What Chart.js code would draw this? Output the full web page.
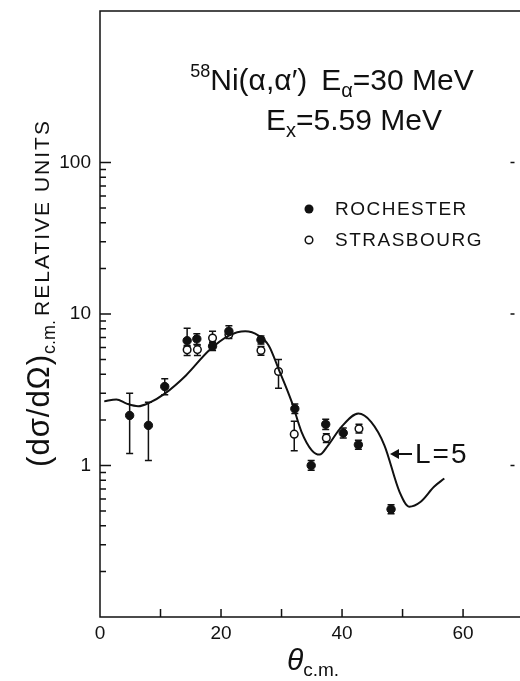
<!DOCTYPE html>
<html>
<head>
<meta charset="utf-8">
<script src="https://cdn.jsdelivr.net/npm/chart.js@4/dist/chart.umd.min.js"></script>
<style>
  html, body { margin: 0; padding: 0; background: #fff; }
</style>
</head>
<body>
<canvas id="graficoNi" width="520" height="681"></canvas>
<script>
// dados (theta c.m. em graus, secao de choque relativa)
const rochAngle = [4.9, 8.0, 10.7, 14.4, 16.0, 18.6, 21.3, 26.6, 32.2, 34.9, 37.3, 40.2, 42.7, 48.1];
const rochValue = [2.14, 1.84, 3.32, 6.67, 6.85, 6.13, 7.69, 6.75, 2.37, 1.00, 1.87, 1.64, 1.37, 0.514];
const rochLow   = [1.2, 1.08, 2.93, 6.1, 6.3, 5.75, 7.1, 6.35, 2.2, 0.93, 1.73, 1.52, 1.28, 0.48];
const rochHigh  = [3.0, 2.62, 3.74, 8.05, 7.4, 6.5, 8.37, 7.15, 2.55, 1.08, 2.02, 1.77, 1.47, 0.55];

const strasAngle = [14.4, 16.1, 18.6, 21.3, 26.6, 29.5, 32.1, 37.4, 42.8];
const strasValue = [5.8, 5.82, 6.95, 7.31, 5.74, 4.17, 1.61, 1.52, 1.75];
const strasLow   = [5.32, 5.32, 6.5, 6.9, 5.35, 3.24, 1.25, 1.42, 1.64];
const strasHigh  = [6.2, 6.25, 7.69, 7.7, 6.1, 5.0, 1.96, 1.62, 1.87];

// curva teorica L=5
const curveAngle = [0.7, 2.7, 4.4, 6.3, 8.2, 10.7, 14.2, 18.0, 21.3, 24.0, 26.2, 27.9, 29.5, 31.7, 33.3, 35.0, 36.3, 37.7, 39.9, 42.7, 44.8, 47.0, 49.5, 51.1, 53.0, 55.2, 56.9];
const curveValue = [2.65, 2.73, 2.56, 2.46, 2.6, 2.98, 3.93, 5.74, 7.2, 7.69, 7.2, 6.18, 4.35, 2.62, 1.67, 1.26, 1.18, 1.36, 1.8, 2.2, 1.94, 1.36, 0.67, 0.535, 0.577, 0.724, 0.82];

const xTickLabels = [0, 20, 40, 60];
const yTickLabels = [1, 10, 100];

const FONTE = '"Liberation Sans", "DejaVu Sans", sans-serif';

function pontos(xs, ys) {
    return xs.map((x, i) => ({ x: x, y: ys[i] }));
}

// desenha um texto composto de pedacos (normal, sobrescrito, subscrito)
function textoComposto(ctx, partes, x, y, align) {
    const fonte = p => (p.italic ? 'italic ' : '') + p.size + 'px ' + FONTE;
    let total = 0;
    partes.forEach(p => {
        ctx.font = fonte(p);
        ctx.letterSpacing = (p.ls || 0) + 'px';
        total += ctx.measureText(p.t).width + (p.gap || 0);
    });
    let cx = align === 'center' ? x - total / 2 : x;
    partes.forEach(p => {
        ctx.font = fonte(p);
        ctx.letterSpacing = (p.ls || 0) + 'px';
        ctx.fillText(p.t, cx, y + (p.dy || 0));
        cx += ctx.measureText(p.t).width + (p.gap || 0);
    });
    ctx.letterSpacing = '0px';
}

// barras de erro, desenhadas antes dos pontos
const barrasErro = {
    id: 'barrasErro',
    beforeDatasetsDraw(chart) {
        const ctx = chart.ctx;
        const xs = chart.scales.x, ys = chart.scales.y;
        ctx.save();
        ctx.strokeStyle = '#111';
        ctx.lineWidth = 1.5;
        chart.data.datasets.forEach(ds => {
            if (!ds.errLow) return;
            ds.data.forEach((p, i) => {
                const px = xs.getPixelForValue(p.x);
                const y1 = ys.getPixelForValue(ds.errLow[i]);
                const y2 = ys.getPixelForValue(ds.errHigh[i]);
                ctx.beginPath();
                ctx.moveTo(px, y1); ctx.lineTo(px, y2);
                ctx.moveTo(px - 3.5, y1); ctx.lineTo(px + 3.5, y1);
                ctx.moveTo(px - 3.5, y2); ctx.lineTo(px + 3.5, y2);
                ctx.stroke();
            });
        });
        ctx.restore();
    }
};

// eixos, marcas, textos e legenda
const moldura = {
    id: 'moldura',
    afterDraw(chart) {
        const ctx = chart.ctx;
        const xs = chart.scales.x, ys = chart.scales.y;
        const a = chart.chartArea;
        ctx.save();
        ctx.strokeStyle = '#111';
        ctx.fillStyle = '#111';
        ctx.lineWidth = 1.5;

        // linhas: topo, esquerda, base
        ctx.beginPath();
        ctx.moveTo(520, a.top); ctx.lineTo(a.left, a.top);
        ctx.lineTo(a.left, a.bottom); ctx.lineTo(520, a.bottom);
        ctx.stroke();

        // marcas do eixo x
        ctx.beginPath();
        for (let v = 10; v <= 60; v += 10) {
            const px = xs.getPixelForValue(v);
            ctx.moveTo(px, a.bottom); ctx.lineTo(px, a.bottom - 8);
        }
        // marcas do eixo y (log), so ate 100
        for (let d = 0.1; d < 100; d *= 10) {
            for (let m = 1; m <= 10; m++) {
                const v = d * m;
                if (v <= 0.1 + 1e-9) continue;
                const py = ys.getPixelForValue(v);
                const len = (m === 1 || m === 10) ? 11 : 6;
                ctx.moveTo(a.left, py); ctx.lineTo(a.left + len, py);
            }
        }
        yTickLabels.forEach(v => {
            const py = ys.getPixelForValue(v);
            ctx.moveTo(a.right, py); ctx.lineTo(a.right - 4, py);
        });
        ctx.stroke();

        // rotulos das marcas
        ctx.font = '19px ' + FONTE;
        ctx.textAlign = 'center';
        ctx.textBaseline = 'top';
        xTickLabels.forEach(v => ctx.fillText(String(v), xs.getPixelForValue(v), a.bottom + 7));
        ctx.textAlign = 'right';
        ctx.textBaseline = 'middle';
        yTickLabels.forEach(v => ctx.fillText(String(v), a.left - 9, ys.getPixelForValue(v)));

        // titulo dentro do grafico
        ctx.textAlign = 'left';
        ctx.textBaseline = 'alphabetic';
        textoComposto(ctx, [
            { t: '58', size: 18, dy: -13 },
            { t: 'Ni(\u03b1,\u03b1\u2032)', size: 30, gap: 14 },
            { t: 'E', size: 30 },
            { t: '\u03b1', size: 20, dy: 7 },
            { t: '=30 MeV', size: 30 }
        ], 332, 90, 'center');
        textoComposto(ctx, [
            { t: 'E', size: 30 },
            { t: 'x', size: 20, dy: 7 },
            { t: '=5.59 MeV', size: 30 }
        ], 354, 130, 'center');

        // legenda
        ctx.beginPath();
        ctx.arc(309, 209, 4.5, 0, Math.PI * 2);
        ctx.fill();
        ctx.beginPath();
        ctx.lineWidth = 1.5;
        ctx.arc(309, 240, 3.8, 0, Math.PI * 2);
        ctx.stroke();
        ctx.font = '19px ' + FONTE;
        ctx.textBaseline = 'middle';
        ctx.letterSpacing = '1.5px';
        ctx.fillText('ROCHESTER', 335, 210);
        ctx.fillText('STRASBOURG', 335, 241);
        ctx.letterSpacing = '0px';

        // anotacao L=5
        ctx.beginPath();
        ctx.lineWidth = 2;
        ctx.moveTo(412, 454); ctx.lineTo(397, 454);
        ctx.stroke();
        ctx.beginPath();
        ctx.moveTo(390, 454); ctx.lineTo(399, 449); ctx.lineTo(399, 459);
        ctx.closePath();
        ctx.fill();
        ctx.font = '28px ' + FONTE;
        ctx.letterSpacing = '2px';
        ctx.fillText('L=5', 415, 455);
        ctx.letterSpacing = '0px';

        // titulo do eixo x
        ctx.textBaseline = 'alphabetic';
        textoComposto(ctx, [
            { t: '\u03b8', size: 30, italic: true },
            { t: 'c.m.', size: 19, dy: 6 }
        ], 313, 670, 'center');

        // titulo do eixo y (girado)
        ctx.save();
        ctx.translate(49, 293);
        ctx.rotate(-Math.PI / 2);
        textoComposto(ctx, [
            { t: '(d\u03c3/d\u03a9)', size: 31, ls: 1 },
            { t: 'c.m.', size: 18, dy: 6, gap: 4 },
            { t: 'RELATIVE UNITS', size: 21, ls: 2 }
        ], 0, 0, 'center');
        ctx.restore();

        ctx.restore();
    }
};

document.addEventListener('DOMContentLoaded', function () {
    const ctx = document.getElementById('graficoNi').getContext('2d');
    new Chart(ctx, {
        type: 'scatter',
        data: {
            datasets: [
                {
                    label: 'L=5',
                    type: 'line',
                    data: pontos(curveAngle, curveValue),
                    borderColor: '#111',
                    borderWidth: 2,
                    pointRadius: 0,
                    fill: false,
                    cubicInterpolationMode: 'monotone'
                },
                {
                    label: 'ROCHESTER',
                    data: pontos(rochAngle, rochValue),
                    errLow: rochLow,
                    errHigh: rochHigh,
                    pointRadius: 4.2,
                    backgroundColor: '#111',
                    borderColor: '#111',
                    borderWidth: 1
                },
                {
                    label: 'STRASBOURG',
                    data: pontos(strasAngle, strasValue),
                    errLow: strasLow,
                    errHigh: strasHigh,
                    pointRadius: 3.8,
                    backgroundColor: '#fff',
                    borderColor: '#111',
                    borderWidth: 1.5
                }
            ]
        },
        options: {
            responsive: false,
            animation: false,
            layout: { padding: { left: 100, right: 2, top: 11, bottom: 64 } },
            plugins: {
                legend: { display: false },
                tooltip: { enabled: false }
            },
            scales: {
                x: { type: 'linear', min: 0, max: 68.5, display: false },
                y: { type: 'logarithmic', min: 0.1, max: 1000, display: false }
            }
        },
        plugins: [barrasErro, moldura]
    });
});
</script>
</body>
</html>
